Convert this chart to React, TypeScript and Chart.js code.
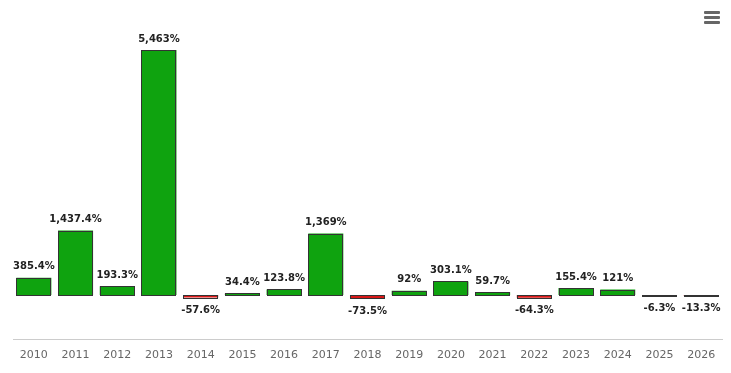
import React, { useEffect, useRef } from "react";
import { Chart, registerables } from "chart.js";

Chart.register(...registerables);

const categories = ["2010","2011","2012","2013","2014","2015","2016","2017","2018","2019","2020","2021","2022","2023","2024","2025","2026"];
const values = [385.4, 1437.4, 193.3, 5463, -57.6, 34.4, 123.8, 1369, -73.5, 92, 303.1, 59.7, -64.3, 155.4, 121, -6.3, -13.3];

const GREEN = "#0fa30f";
const RED = "#d91818";

const labelPlugin = {
  id: "valueLabels",
  afterDatasetsDraw(chart: any) {
    const ctx = chart.ctx;
    const meta = chart.getDatasetMeta(0);
    ctx.save();
    // Highcharts-style outline: 1px stroke centred on the bar edges
    ctx.strokeStyle = "#333";
    ctx.lineWidth = 1;
    meta.data.forEach((bar: any) => {
      const left = Math.round(bar.x - bar.width / 2) + 0.5;
      const right = Math.round(bar.x + bar.width / 2) - 0.5;
      const top = Math.round(Math.min(bar.y, bar.base)) + 0.5;
      const bottom = Math.round(Math.max(bar.y, bar.base)) + 0.5;
      ctx.strokeRect(left, top, right - left, Math.max(bottom - top, 1));
    });
    ctx.font = "bold 10px 'DejaVu Sans'";
    ctx.fillStyle = "#222";
    ctx.textAlign = "center";
    ctx.textBaseline = "middle";
    meta.data.forEach((bar: any, i: number) => {
      const v = values[i];
      const txt = v.toLocaleString("en-US", { maximumFractionDigits: 1 }) + "%";
      const y = v >= 0 ? bar.y - 11 : bar.y + 13;
      ctx.fillText(txt, bar.x, y);
    });
    ctx.restore();
  },
};

export default function App() {
  const ref = useRef<HTMLCanvasElement | null>(null);
  useEffect(() => {
    if (!ref.current) return;
    const chart = new Chart(ref.current, {
      type: "bar",
      data: {
        labels: categories,
        datasets: [
          {
            data: values,
            backgroundColor: values.map((v) => (v >= 0 ? GREEN : RED)),
            borderWidth: 0,
            categoryPercentage: 1,
            barPercentage: 0.84,
          },
        ],
      },
      options: {
        animation: false,
        responsive: false,
        maintainAspectRatio: false,
        layout: { padding: { left: 13, right: 9, top: 26, bottom: 2 } },
        plugins: { legend: { display: false }, tooltip: { enabled: false } },
        scales: {
          x: {
            grid: { display: false, drawTicks: false },
            border: { display: true, color: "#ccc", width: 1 },
            ticks: {
              color: "#666",
              font: { family: "'DejaVu Sans'", size: 11 },
              padding: 9,
              maxRotation: 0,
              autoSkip: false,
            },
          },
          y: {
            display: false,
            min: -1000,
            max: 6000,
          },
        },
      },
      plugins: [labelPlugin],
    });
    return () => chart.destroy();
  }, []);
  const line = { position: "absolute" as const, left: 704, width: 16, height: 3, background: "#666", borderRadius: 1 };
  return (
    <div style={{ position: "fixed", left: 0, top: 0, width: 731, height: 373, background: "#fff" }}>
      <canvas ref={ref} width={731} height={373} style={{ display: "block" }} />
      <div style={{ ...line, top: 11 }} />
      <div style={{ ...line, top: 16 }} />
      <div style={{ ...line, top: 21 }} />
    </div>
  );
}
